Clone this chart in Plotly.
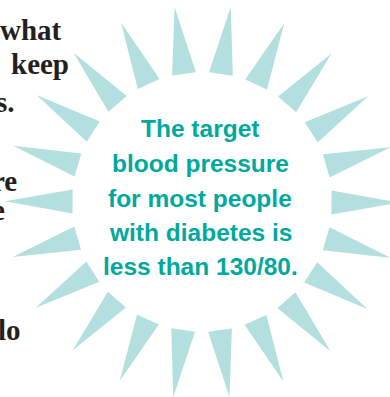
import math
import plotly.graph_objects as go

# Ray directions (degrees, counter-clockwise from east)
ray_angles = [81.6, 98.0, 114.3, 130.7, 147.1, 163.4, 179.8, 196.2, 212.5, 228.9, 245.3,
              261.6, 278.0, 294.4, 310.7, 327.1, 343.5, 359.8, 16.2, 32.5, 48.9, 65.3]

# Centre message lines and their baselines
message_lines = ["The target", "blood pressure", "for most people", "with diabetes is", "less than 130/80."]
message_baseline = [138, 173, 208, 242, 276]

# Body text fragments visible at the left edge (cut off by the frame)
side_words = ["what", "keep", "s.", "re", "e", "lo"]
side_right = [63, 70, 16, 18, 6, 22]
side_baseline = [40, 74, 112, 191, 220, 340]

CX, CY = 202, 202
R_BASE, R_TIP, HALF = 130, 197, 5.3

xs, ys = [], []
for a in ray_angles:
    for ang, r in ((a - HALF, R_BASE), (a, R_TIP), (a + HALF, R_BASE), (a - HALF, R_BASE)):
        t = math.radians(ang)
        xs.append(CX + r * math.cos(t))
        ys.append(CY - r * math.sin(t))
    xs.append(None)
    ys.append(None)

fig = go.Figure()
fig.add_trace(go.Scatter(x=xs, y=ys, mode="lines", fill="toself",
                         fillcolor="#b3e0df", line=dict(width=0, color="#b3e0df"),
                         hoverinfo="skip", showlegend=False))

msz = 24.5
for txt, yb in zip(message_lines, message_baseline):
    fig.add_annotation(x=200, y=yb - 0.38 * msz, text="<b>" + txt + "</b>", showarrow=False,
                       xanchor="center", yanchor="middle",
                       font=dict(family="Liberation Sans, Arial, sans-serif",
                                 size=msz, color="#00a99d"))

fsz = 29
for w, xr, yb in zip(side_words, side_right, side_baseline):
    fig.add_annotation(x=xr + 1, y=yb - 0.36 * fsz, text="<b>" + w + "</b>", showarrow=False,
                       xanchor="right", yanchor="middle",
                       font=dict(family="Liberation Serif, DejaVu Serif, serif", size=fsz, color="#231f20"))

fig.update_layout(width=390, height=397, margin=dict(l=0, r=0, t=0, b=0),
                  paper_bgcolor="white", plot_bgcolor="white",
                  xaxis=dict(range=[0, 390], visible=False, fixedrange=True),
                  yaxis=dict(range=[397, 0], visible=False, fixedrange=True),
                  showlegend=False)
fig.write_html("out.html", config={"displayModeBar": False},
               post_script="document.body.style.margin='0';document.body.style.overflow='hidden';")
